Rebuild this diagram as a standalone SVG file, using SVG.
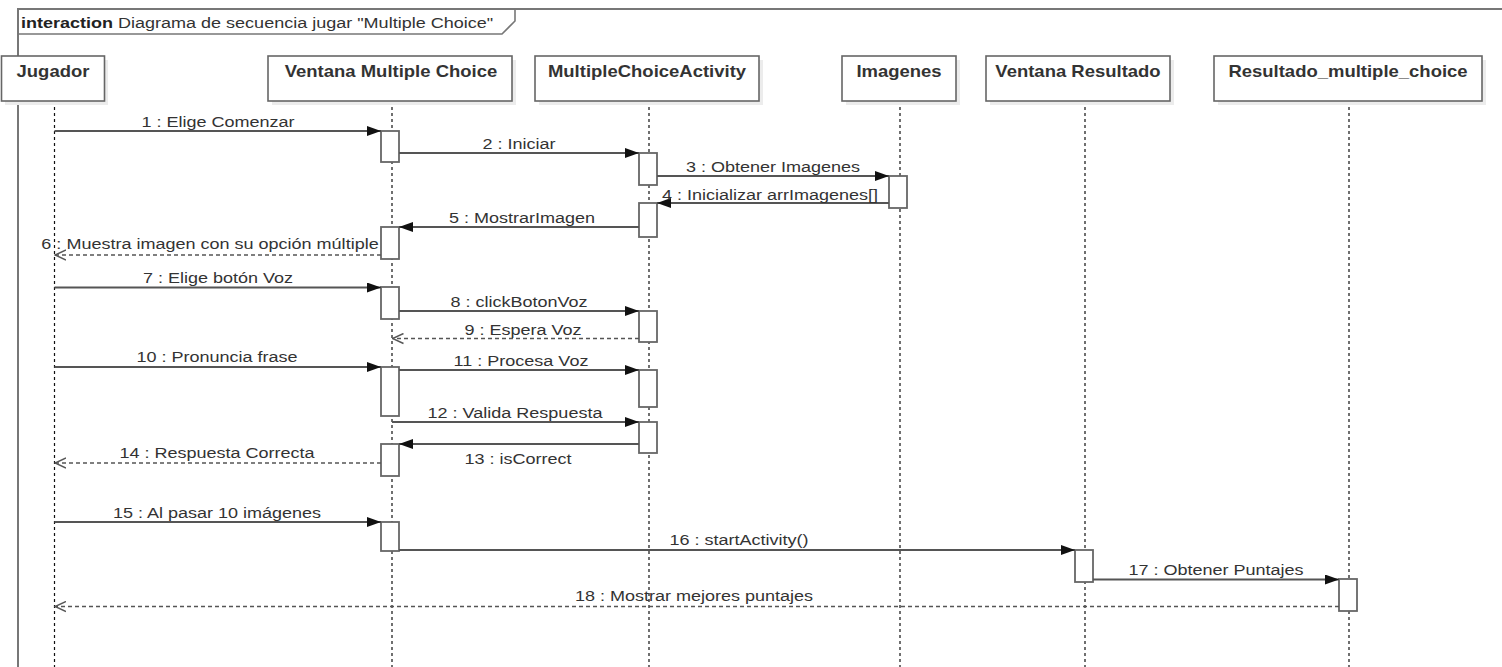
<svg xmlns="http://www.w3.org/2000/svg" width="1502" height="667" viewBox="0 0 1502 667">
<style>
.lbl{font-family:"Liberation Sans",Arial,sans-serif;font-size:15.4px;fill:#333;text-anchor:middle}
.name{font-family:"Liberation Sans",Arial,sans-serif;font-size:15.8px;font-weight:bold;fill:#333;text-anchor:middle}
.box{fill:#fff;stroke:#666;stroke-width:1.6}
.shadow{fill:#ececec}
.life{stroke:#111;stroke-width:1.2;stroke-dasharray:3 3;fill:none}
.act{fill:#fff;stroke:#666;stroke-width:1.8}
.msg{stroke:#555;stroke-width:1.8;fill:none;marker-end:url(#filled)}
.ret{stroke:#555;stroke-width:1.6;fill:none;stroke-dasharray:4 3;marker-end:url(#open)}
</style>
<defs>
<marker id="filled" viewBox="0 0 14 10" refX="14" refY="5" markerWidth="14" markerHeight="10" orient="auto" markerUnits="userSpaceOnUse"><path d="M0,0 L14,5 L0,10 z" fill="#111"/></marker>
<marker id="open" viewBox="0 0 12 12" refX="11" refY="6" markerWidth="12" markerHeight="12" orient="auto" markerUnits="userSpaceOnUse"><path d="M0,1 L11,6 L0,11" fill="none" stroke="#555" stroke-width="1.5"/></marker>
</defs>
<rect width="1502" height="667" fill="#fff"/>
<g id="frame">
<path d="M18,700 V9 H1510" fill="none" stroke="#777" stroke-width="2"/>
<path d="M18,34 H502 L515,21 V9" fill="none" stroke="#777" stroke-width="1.6"/>
<text transform="translate(21 28) scale(1.17 1)" style="font-family:'Liberation Sans',Arial,sans-serif;font-size:15.4px;font-weight:bold;fill:#222">interaction</text>
<text transform="translate(118 28) scale(1.17 1)" style="font-family:'Liberation Sans',Arial,sans-serif;font-size:15.4px;fill:#333">Diagrama de secuencia jugar "Multiple Choice"</text>
</g>
<g id="lifelines">
<line class="life" x1="54.5" y1="101" x2="54.5" y2="667"/>
<line class="life" x1="392" y1="101" x2="392" y2="667"/>
<line class="life" x1="649" y1="101" x2="649" y2="667"/>
<line class="life" x1="900" y1="101" x2="900" y2="667"/>
<line class="life" x1="1085" y1="101" x2="1085" y2="667"/>
<line class="life" x1="1349" y1="101" x2="1349" y2="667"/>
</g>
<g id="jugador">
<rect class="shadow" x="5" y="60" width="103" height="45"/>
<rect class="box" x="1.5" y="56" width="103" height="45"/>
<text class="name" transform="translate(53 77) scale(1.17 1)">Jugador</text>
</g>
<g id="ventana-multiple-choice">
<rect class="shadow" x="272" y="60" width="244" height="45"/>
<rect class="box" x="268" y="56" width="244" height="45"/>
<text class="name" transform="translate(391 77) scale(1.17 1)">Ventana Multiple Choice</text>
</g>
<g id="multiple-choice-activity">
<rect class="shadow" x="539" y="60" width="224" height="45"/>
<rect class="box" x="535" y="56" width="224" height="45"/>
<text class="name" transform="translate(647 77) scale(1.17 1)">MultipleChoiceActivity</text>
</g>
<g id="imagenes">
<rect class="shadow" x="846" y="60" width="114" height="45"/>
<rect class="box" x="842" y="56" width="114" height="45"/>
<text class="name" transform="translate(899 77) scale(1.17 1)">Imagenes</text>
</g>
<g id="ventana-resultado">
<rect class="shadow" x="990" y="60" width="184" height="45"/>
<rect class="box" x="986" y="56" width="184" height="45"/>
<text class="name" transform="translate(1078 77) scale(1.17 1)">Ventana Resultado</text>
</g>
<g id="resultado-multiple-choice">
<rect class="shadow" x="1218" y="60" width="268" height="45"/>
<rect class="box" x="1214" y="56" width="268" height="45"/>
<text class="name" transform="translate(1348 77) scale(1.17 1)">Resultado_multiple_choice</text>
</g>
<g id="activations">
<rect class="act" x="381" y="131" width="18" height="31"/>
<rect class="act" x="381" y="227" width="18" height="32"/>
<rect class="act" x="381" y="287" width="18" height="32"/>
<rect class="act" x="381" y="367" width="18" height="49"/>
<rect class="act" x="381" y="444" width="18" height="32"/>
<rect class="act" x="381" y="522" width="18" height="29"/>
<rect class="act" x="639" y="153" width="18" height="32"/>
<rect class="act" x="639" y="203" width="18" height="34"/>
<rect class="act" x="639" y="311" width="18" height="31"/>
<rect class="act" x="639" y="370" width="18" height="37"/>
<rect class="act" x="639" y="422" width="18" height="31"/>
<rect class="act" x="889" y="176" width="18" height="32"/>
<rect class="act" x="1075" y="550" width="18" height="32"/>
<rect class="act" x="1339" y="579" width="18" height="32"/>
</g>
<g id="connectors">
<path class="msg" d="M54.5,131 H381"/>
<path class="msg" d="M399,153 H639"/>
<path class="msg" d="M657,176 H889"/>
<path class="msg" d="M889,203 H657"/>
<path class="msg" d="M639,227 H399"/>
<path class="ret" d="M381,255 H55"/>
<path class="msg" d="M54.5,287.5 H381"/>
<path class="msg" d="M399,311 H639"/>
<path class="ret" d="M639,338.5 H392.5"/>
<path class="msg" d="M54.5,367 H381"/>
<path class="msg" d="M399,370 H639"/>
<path class="msg" d="M392,422 H639"/>
<path class="msg" d="M639,444 H399"/>
<path class="ret" d="M381,463 H55"/>
<path class="msg" d="M54.5,522 H381"/>
<path class="msg" d="M399,550 H1075"/>
<path class="msg" d="M1093,579.5 H1339"/>
<path class="ret" d="M1339,606.5 H55"/>
</g>
<g id="labels">
<text class="lbl" transform="translate(218 127) scale(1.17 1)">1 : Elige Comenzar</text>
<text class="lbl" transform="translate(519 149) scale(1.17 1)">2 : Iniciar</text>
<text class="lbl" transform="translate(773 172) scale(1.17 1)">3 : Obtener Imagenes</text>
<text class="lbl" transform="translate(770 200) scale(1.17 1)">4 : Inicializar arrImagenes[]</text>
<text class="lbl" transform="translate(522 223) scale(1.17 1)">5 : MostrarImagen</text>
<text class="lbl" transform="translate(210 249) scale(1.17 1)">6 : Muestra imagen con su opción múltiple</text>
<text class="lbl" transform="translate(218 283) scale(1.17 1)">7 : Elige botón Voz</text>
<text class="lbl" transform="translate(519 307) scale(1.17 1)">8 : clickBotonVoz</text>
<text class="lbl" transform="translate(523 335) scale(1.17 1)">9 : Espera Voz</text>
<text class="lbl" transform="translate(217 362) scale(1.17 1)">10 : Pronuncia frase</text>
<text class="lbl" transform="translate(521 366) scale(1.17 1)">11 : Procesa Voz</text>
<text class="lbl" transform="translate(515 418) scale(1.17 1)">12 : Valida Respuesta</text>
<text class="lbl" transform="translate(518 464) scale(1.17 1)">13 : isCorrect</text>
<text class="lbl" transform="translate(217 458) scale(1.17 1)">14 : Respuesta Correcta</text>
<text class="lbl" transform="translate(217 518) scale(1.17 1)">15 : Al pasar 10 imágenes</text>
<text class="lbl" transform="translate(739 545) scale(1.17 1)">16 : startActivity()</text>
<text class="lbl" transform="translate(1216 575) scale(1.17 1)">17 : Obtener Puntajes</text>
<text class="lbl" transform="translate(694 601) scale(1.17 1)">18 : Mostrar mejores puntajes</text>
</g>
</svg>
